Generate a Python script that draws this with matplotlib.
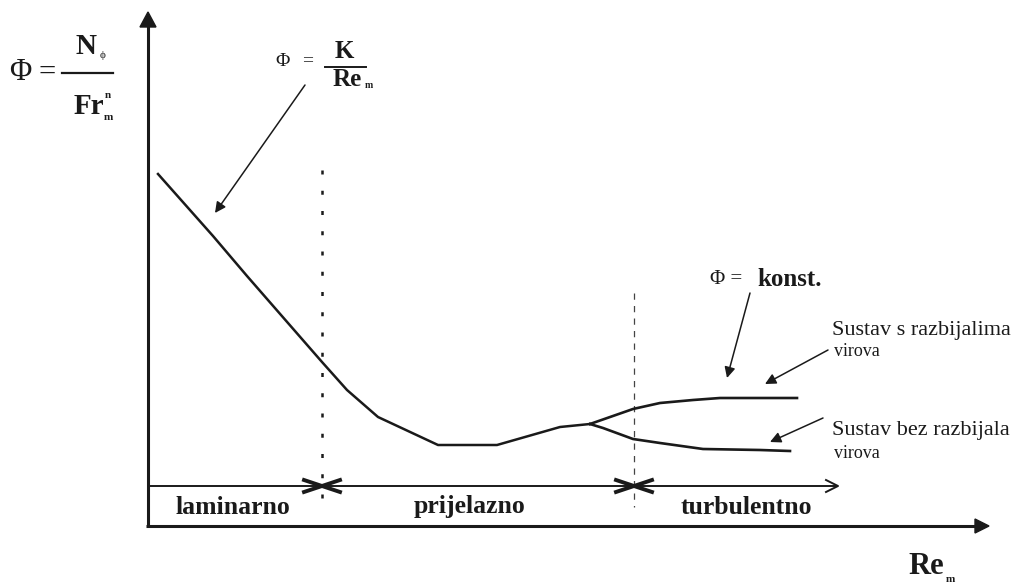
import matplotlib.pyplot as plt

plt.rcParams['font.family'] = ['Liberation Serif', 'DejaVu Serif']

# schematic curve (pixel-like units, y grows downward)
main_x = [158, 213, 247, 322, 347, 378, 438, 497, 560, 590]
main_y = [174, 236, 276, 362, 390, 417, 445, 445, 427, 424]
with_baffles_x = [590, 633, 660, 693, 720, 797]
with_baffles_y = [424, 409, 403, 400, 398, 398]
no_baffles_x = [590, 603, 633, 660, 703, 760, 790]
no_baffles_y = [424, 428, 439, 443, 449, 450, 451]

# regime boundaries and labels
boundaries = [322, 634]
regimes = ['laminarno', 'prijelazno', 'turbulentno']
regime_x = [233, 470, 746]

fig = plt.figure(figsize=(10.24, 5.86), dpi=100)
ax = fig.add_axes([0, 0, 1, 1])
ax.set_xlim(0, 1024)
ax.set_ylim(586, 0)
ax.axis('off')

k = '#1a1a1a'

# ---------------- axes ----------------
ax.plot([148, 148], [527, 26], color=k, lw=2.2, solid_capstyle='butt')
ax.fill([140, 156, 148], [27, 27, 12], color=k)
ax.plot([146, 976], [526, 526], color=k, lw=2.2, solid_capstyle='butt')
ax.fill([975, 975, 989], [519, 533, 526], color=k)

# inner regime axis with open arrow
ax.plot([148, 837], [486, 486], color=k, lw=1.4)
ax.plot([826, 838, 826], [480, 486, 492], color=k, lw=1.4)

# regime boundaries
ax.plot([boundaries[0]] * 2, [170, 498], color=k, lw=1.8,
        linestyle=(0, (1.6, 6.5)))
ax.plot([boundaries[1]] * 2, [293, 507], color='#444444', lw=0.9,
        linestyle=(0, (5, 5)))
for b in boundaries:
    ax.plot([b - 18, b + 18], [480, 492], color=k, lw=2.8)
    ax.plot([b - 18, b + 18], [492, 480], color=k, lw=2.8)

for name, xr in zip(regimes, regime_x):
    ax.text(xr, 507, name, ha='center', va='center', fontsize=18.5,
            fontweight='bold', color=k)

# ---------------- curves ----------------
ax.plot(main_x, main_y, color=k, lw=1.8)
ax.plot(with_baffles_x, with_baffles_y, color=k, lw=1.9)
ax.plot(no_baffles_x, no_baffles_y, color=k, lw=1.9)

# ---------------- annotations ----------------
aprops = dict(arrowstyle='-|>', color=k, lw=1.1, mutation_scale=16,
              shrinkA=0, shrinkB=0)
ax.annotate('', xy=(215, 213), xytext=(305, 85), arrowprops=aprops)
ax.annotate('', xy=(727, 378), xytext=(750, 293), arrowprops=aprops)
ax.annotate('', xy=(765, 384), xytext=(828, 350), arrowprops=aprops)
ax.annotate('', xy=(770, 442), xytext=(823, 418), arrowprops=aprops)

# left label  Phi = N_phi / Fr_m^n
ax.text(20, 73, 'Φ', ha='center', va='center', fontsize=22, color=k)
ax.text(47, 73, '=', ha='center', va='center', fontsize=22, color=k)
ax.plot([62, 113], [73, 73], color=k, lw=1.6)
ax.text(86, 47, 'N', ha='center', va='center', fontsize=21,
        fontweight='bold', color=k)
ax.text(103, 55, 'ϕ', ha='center', va='center', fontsize=8, color=k)
ax.text(89, 106, 'Fr', ha='center', va='center', fontsize=21,
        fontweight='bold', color=k)
ax.text(108, 96, 'n', ha='center', va='center', fontsize=8,
        fontweight='bold', color=k)
ax.text(108, 118, 'm', ha='center', va='center', fontsize=8,
        fontweight='bold', color=k)

# Phi = K / Re_m
ax.text(283, 61, 'Φ', ha='center', va='center', fontsize=14, color=k)
ax.text(308, 61, '=', ha='center', va='center', fontsize=14, color=k)
ax.plot([325, 366], [67, 67], color=k, lw=1.4)
ax.text(344, 52, 'K', ha='center', va='center', fontsize=18,
        fontweight='bold', color=k)
ax.text(347, 80, 'Re', ha='center', va='center', fontsize=18,
        fontweight='bold', color=k)
ax.text(369, 86, 'm', ha='center', va='center', fontsize=7,
        fontweight='bold', color=k)

# Phi = konst.
ax.text(710, 279, 'Φ =', ha='left', va='center', fontsize=15, color=k)
ax.text(757, 279, 'konst.', ha='left', va='center', fontsize=18,
        fontweight='bold', color=k)

ax.text(832, 330, 'Sustav s razbijalima', ha='left', va='center',
        fontsize=16, color=k)
ax.text(834, 352, 'virova', ha='left', va='center', fontsize=13, color=k)
ax.text(832, 430, 'Sustav bez razbijala', ha='left', va='center',
        fontsize=16, color=k)
ax.text(834, 453, 'virova', ha='left', va='center', fontsize=13, color=k)

# x axis label
ax.text(926, 566, 'Re', ha='center', va='center', fontsize=22,
        fontweight='bold', color=k)
ax.text(950, 579, 'm', ha='center', va='center', fontsize=8,
        fontweight='bold', color=k)

fig.savefig('out.png', dpi=100)
